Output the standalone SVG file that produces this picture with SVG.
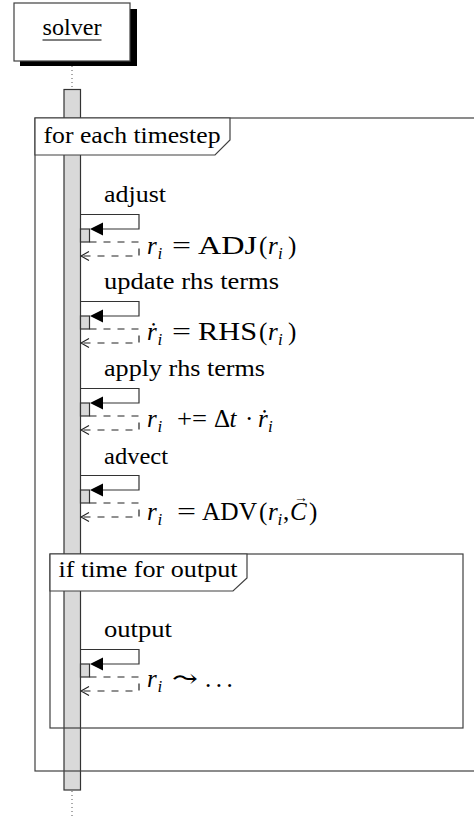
<svg xmlns="http://www.w3.org/2000/svg" width="474" height="824" viewBox="0 0 474 824">
  <style>
    .t { font-family: "Liberation Serif", "Times New Roman", Tinos, "Noto Serif", "DejaVu Serif", FreeSerif, serif; font-size: 23px; fill: #000; }
    .m { font-size: 25px; }
    .it { font-style: italic; }
    .sub { font-style: italic; font-size: 17px; }
    .frame { fill: none; stroke: #404040; stroke-width: 1.2; }
    .tag { fill: #fff; stroke: #404040; stroke-width: 1.2; }
    .bar { fill: #d9d9d9; stroke: #333; stroke-width: 1.2; }
    .call { fill: none; stroke: #333; stroke-width: 1.2; }
    .head { fill: #000; stroke: none; }
    .ret { fill: none; stroke: #222; stroke-width: 1.2; stroke-dasharray: 7 7; }
    .open { fill: none; stroke: #222; stroke-width: 1.1; }
    .life { stroke: #555; stroke-width: 1; stroke-dasharray: 1 3; }
  </style>

  <!-- lifeline head -->
  <g id="solver">
    <rect x="20" y="9" width="117" height="57" fill="#000"/>
    <rect x="14" y="3" width="116" height="58" fill="#fff" stroke="#404040" stroke-width="1.2"/>
    <text class="t" x="42.5" y="35" textLength="59" lengthAdjust="spacingAndGlyphs">solver</text>
    <line x1="42.5" y1="40" x2="101.5" y2="40" stroke="#000" stroke-width="1.2"/>
  </g>

  <!-- lifeline and activation -->
  <g id="lifeline">
    <line class="life" x1="72" y1="66" x2="72" y2="89"/>
    <rect class="bar" x="64" y="89.5" width="16.5" height="700.5"/>
    <line class="life" x1="72" y1="791" x2="72" y2="818"/>
  </g>

  <!-- combined fragment: loop -->
  <g id="loop">
    <rect class="frame" x="35" y="118" width="450" height="653"/>
    <path class="tag" d="M35 118 H230 V140 L215 155 H35 Z"/>
    <text class="t" x="43.5" y="143" textLength="177" lengthAdjust="spacingAndGlyphs">for each timestep</text>
  </g>

  <!-- combined fragment: opt -->
  <g id="opt">
    <rect class="frame" x="50" y="554" width="413" height="174"/>
    <path class="tag" d="M50 554 H247 V578 L233 591 H50 Z"/>
    <text class="t" x="58.5" y="577" textLength="179" lengthAdjust="spacingAndGlyphs">if time for output</text>
  </g>

  <!-- self calls and returns -->
  <g id="connectors">
    <g id="msg-adjust">
      <text class="t" x="104" y="202" textLength="62" lengthAdjust="spacingAndGlyphs">adjust</text>
      <path class="call" d="M80.5 214.5 H139 V229 H100"/>
      <polygon class="head" points="90,229 103,222.5 103,235.5"/>
      <rect class="bar" x="80.5" y="229" width="9" height="13"/>
      <path class="ret" d="M89.5 242 H139 V256 H81"/>
      <polyline class="open" points="89,251.5 81,256 89,260.5"/>
      <text class="t m" y="254"><tspan class="it" x="147">r</tspan><tspan class="sub" x="157.5" dy="5">i</tspan><tspan x="172" dy="-5" textLength="19" lengthAdjust="spacingAndGlyphs">=</tspan><tspan x="198" textLength="59" lengthAdjust="spacingAndGlyphs">ADJ</tspan><tspan x="259">(</tspan><tspan class="it" x="268">r</tspan><tspan class="sub" x="278" dy="5">i</tspan><tspan x="288" dy="-5">)</tspan></text>
    </g>

    <g id="msg-rhs">
      <text class="t" x="104" y="289" textLength="175" lengthAdjust="spacingAndGlyphs">update rhs terms</text>
      <path class="call" d="M80.5 301.5 H139 V316 H100"/>
      <polygon class="head" points="90,316 103,309.5 103,322.5"/>
      <rect class="bar" x="80.5" y="316" width="9" height="13"/>
      <path class="ret" d="M89.5 329 H139 V343 H81"/>
      <polyline class="open" points="89,338.5 81,343 89,347.5"/>
      <text class="t m" y="339.5"><tspan class="it" x="147">r&#x307;</tspan><tspan class="sub" x="157.5" dy="5">i</tspan><tspan x="172" dy="-5" textLength="19" lengthAdjust="spacingAndGlyphs">=</tspan><tspan x="198" textLength="59" lengthAdjust="spacingAndGlyphs">RHS</tspan><tspan x="259">(</tspan><tspan class="it" x="268">r</tspan><tspan class="sub" x="278" dy="5">i</tspan><tspan x="288" dy="-5">)</tspan></text>
    </g>

    <g id="msg-apply">
      <text class="t" x="104" y="375.5" textLength="161" lengthAdjust="spacingAndGlyphs">apply rhs terms</text>
      <path class="call" d="M80.5 388.5 H139 V403 H100"/>
      <polygon class="head" points="90,403 103,396.5 103,409.5"/>
      <rect class="bar" x="80.5" y="403" width="9" height="13"/>
      <path class="ret" d="M89.5 416 H139 V430 H81"/>
      <polyline class="open" points="89,425.5 81,430 89,434.5"/>
      <text class="t m" y="426.5"><tspan class="it" x="147">r</tspan><tspan class="sub" x="157.5" dy="5">i</tspan><tspan x="177" dy="-5" textLength="30" lengthAdjust="spacingAndGlyphs">+=</tspan><tspan x="214">Δ</tspan><tspan class="it" x="229.5">t</tspan><tspan x="245">·</tspan><tspan class="it" x="258">r&#x307;</tspan><tspan class="sub" x="268" dy="5">i</tspan></text>
    </g>

    <g id="msg-advect">
      <text class="t" x="104" y="464" textLength="64" lengthAdjust="spacingAndGlyphs">advect</text>
      <path class="call" d="M80.5 475.5 H139 V490 H100"/>
      <polygon class="head" points="90,490 103,483.5 103,496.5"/>
      <rect class="bar" x="80.5" y="490" width="9" height="13"/>
      <path class="ret" d="M89.5 503 H139 V517 H81"/>
      <polyline class="open" points="89,512.5 81,517 89,521.5"/>
      <text class="t m" y="520"><tspan class="it" x="147">r</tspan><tspan class="sub" x="157.5" dy="5">i</tspan><tspan x="177" dy="-5" textLength="19" lengthAdjust="spacingAndGlyphs">=</tspan><tspan x="202" textLength="55" lengthAdjust="spacingAndGlyphs">ADV</tspan><tspan x="259">(</tspan><tspan class="it" x="268">r</tspan><tspan class="sub" x="277.5" dy="5">i</tspan><tspan x="283" dy="-5">,</tspan><tspan class="it" x="290">C</tspan><tspan x="301" dy="-18" text-anchor="middle" style="font-size:14px">→</tspan><tspan x="309" dy="18">)</tspan></text>
    </g>

    <g id="msg-output">
      <text class="t" x="104" y="637" textLength="68" lengthAdjust="spacingAndGlyphs">output</text>
      <path class="call" d="M80.5 649.5 H139 V664 H100"/>
      <polygon class="head" points="90,664 103,657.5 103,670.5"/>
      <rect class="bar" x="80.5" y="664" width="9" height="13"/>
      <path class="ret" d="M89.5 677 H139 V691 H81"/>
      <polyline class="open" points="89,686.5 81,691 89,695.5"/>
      <text class="t m" y="687"><tspan class="it" x="147">r</tspan><tspan class="sub" x="157.5" dy="5">i</tspan><tspan x="172" dy="-5" textLength="26" lengthAdjust="spacingAndGlyphs" style="font-family:'DejaVu Sans','DejaVu Serif',sans-serif">⤳</tspan><tspan x="205" letter-spacing="4.5">...</tspan></text>
    </g>
  </g>
</svg>
